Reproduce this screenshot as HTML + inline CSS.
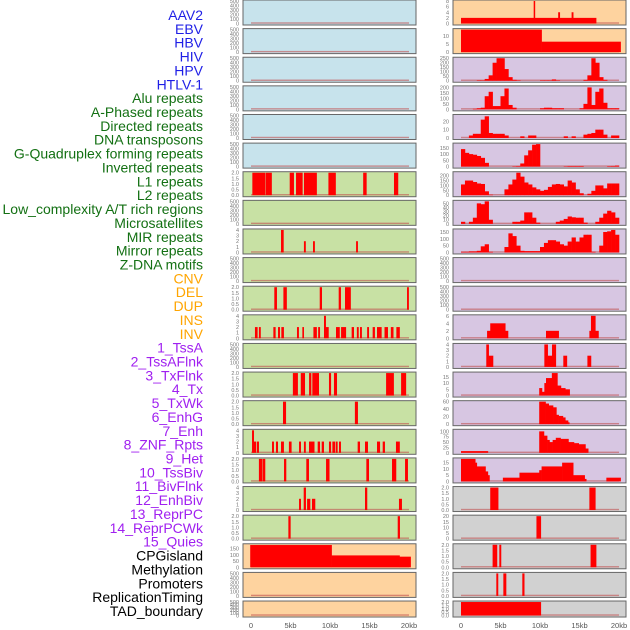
<!DOCTYPE html>
<html><head><meta charset="utf-8"><style>
html,body{margin:0;padding:0;background:#fff;width:630px;height:630px;overflow:hidden}
svg{display:block;font-family:"Liberation Sans",sans-serif}
</style></head><body>
<svg id="chart" width="630" height="630" viewBox="0 0 630 630" xmlns="http://www.w3.org/2000/svg"></svg>
<script>
// ---- labels ----
const trackLabels = ["AAV2","EBV","HBV","HIV","HPV","HTLV-1","Alu repeats","A-Phased repeats","Directed repeats","DNA transposons","G-Quadruplex forming repeats","Inverted repeats","L1 repeats","L2 repeats","Low_complexity A/T rich regions","Microsatellites","MIR repeats","Mirror repeats","Z-DNA motifs","CNV","DEL","DUP","INS","INV","1_TssA","2_TssAFlnk","3_TxFlnk","4_Tx","5_TxWk","6_EnhG","7_Enh","8_ZNF_Rpts","9_Het","10_TssBiv","11_BivFlnk","12_EnhBiv","13_ReprPC","14_ReprPCWk","15_Quies","CPGisland","Methylation","Promoters","ReplicationTiming","TAD_boundary"];
const labelGroups = [6,13,5,15,5];
const xTickValues = [0,5,10,15,20];
const xTickLabels = ["0","5kb","10kb","15kb","20kb"];
// ---- tick arrays ----
const T500=["0","100","200","300","400","500"], T2=["0.0","0.5","1.0","1.5","2.0"], T4=["0","1","2","3","4"];
const T150=["0","50","100","150"], T8=["0","2","4","6","8"], T10=["0","5","10"], T250=["0","50","100","150","200","250"];
const T200=["0","50","100","150","200"], T20=["0","10","20"], T50=["0","10","20","30","40","50"], T6=["0","2","4","6"];
const T15=["0","5","10","15"], T60=["0","20","40","60"], T100=["0","25","50","75","100"], T20b=["0","5","10","15","20"];
// ---- left column segments [startKb,endKb,value] ----
const L_row6=[[0.17,1.77,2],[1.86,2.6,2],[4.9,5.4,2],[5.7,6.5,2],[6.7,8.3,2],[9.8,10.7,2],[14.2,14.6,2],[18.1,18.6,2]];
const L_row8=[[3.8,4.1,4],[6.7,6.9,2],[7.85,8.05,2],[13.3,13.5,2]];
const L_row10=[[2.95,3.25,2],[4.1,4.5,2],[8.7,8.95,2],[11.1,11.35,2],[11.9,12.6,2],[19.75,19.95,2]];
const L_row11=[[0.5,0.8,2],[1.0,1.2,2],[2.83,3.08,2],[3.42,3.63,2],[3.84,4.13,2],[5.82,6.03,2],[6.5,6.67,2],[7.9,8.3,2],[8.5,8.7,2],[9.24,9.45,4],[9.45,9.8,2],[10.76,11.2,2],[11.4,12.0,2],[12.74,13.0,2],[13.4,13.6,2],[13.8,14.0,2],[14.7,14.9,2],[15.4,15.65,2],[15.95,16.5,2],[16.9,17.3,2],[17.7,18.0,2],[18.4,18.8,2]];
const L_row13=[[5.3,5.9,2],[6.3,6.8,2],[7.35,7.6,2],[7.76,8.57,2],[9.87,10.1,2],[10.5,10.85,2],[17.1,18.05,2],[19.0,19.6,2]];
const L_row14=[[4.05,4.4,2],[13.15,13.5,2]];
const L_row15=[[0.13,0.34,4],[0.34,0.63,2],[0.76,0.97,2],[2.66,2.87,2],[3.16,3.38,2],[3.8,4.13,2],[4.8,5.1,2],[6.08,6.29,2],[6.7,6.9,2],[7.34,8.0,2],[8.44,8.7,2],[8.95,9.2,2],[9.87,10.1,2],[10.3,10.63,2],[10.75,10.93,2],[11.14,11.35,2],[13.5,13.76,2],[14.43,14.77,2],[15.95,16.3,2],[16.67,16.92,2],[18.35,18.8,2]];
const L_row16=[[1.0,1.43,2],[1.52,1.77,2],[4.18,4.43,2],[7.0,7.3,2],[9.5,9.9,2],[14.6,14.9,2],[17.85,18.35,2],[19.5,19.83,2]];
const L_row17=[[6.08,6.29,2],[6.67,6.92,4],[7.1,7.47,2],[7.72,8.1,2],[14.43,14.68,4],[18.73,19.07,2]];
const L_row18=[[4.73,4.98,2],[18.57,18.82,2]];
const L_row19=[[-0.1,10.2,178],[10.2,18.8,95],[18.8,20.2,85]];
// ---- right column: segments or 0.5kb bin profiles ----
const R_row0=[[0,17.1,2],[9.2,9.35,8],[12.3,12.5,4],[14.0,14.2,4]];
const R_row1=[[0,10.2,14],[10.2,20.2,6.5]];
const R_row2=[0,0,0,0,5,5,20,60,200,250,250,130,40,10,5,0,0,0,0,0,5,5,5,15,5,0,0,0,0,0,0,10,60,250,200,40,10,0,0,0];
const R_row3=[0,0,0,5,10,15,120,160,30,30,120,190,40,15,0,0,0,0,0,0,10,15,15,10,10,10,0,0,0,0,10,50,200,40,160,190,60,10,10,10];
const R_row4=[0,0,3,5,5,22,26,6,5,5,5,3,0,0,0,2,0,3,3,0,0,0,0,0,0,0,2,0,2,0,0,4,5,6,10,10,4,0,3,3];
const R_row5=[140,110,100,95,85,70,30,0,0,0,0,0,0,3,5,25,90,130,175,180,0,0,0,0,0,0,3,5,5,5,5,0,0,0,0,0,0,4,5,8];
const R_row6=[110,150,150,135,120,115,40,5,0,0,0,60,110,160,230,190,130,110,80,60,45,55,85,110,115,110,90,150,130,60,20,0,15,45,100,100,70,120,120,120];
const R_row7=[5,0,5,15,50,48,55,10,0,0,0,0,0,5,5,8,28,28,15,3,0,0,0,0,5,8,12,18,16,15,15,3,0,0,5,15,25,32,28,15];
const R_row8=[5,5,8,8,12,45,60,5,0,0,0,40,140,120,50,12,10,10,10,10,40,70,90,90,80,60,50,80,110,80,110,130,130,5,0,50,150,155,165,130];
const R_row11=[[3.3,3.7,2],[3.7,5.6,4],[5.6,5.95,2],[10.76,12.36,2],[16.25,16.45,2],[16.45,17.0,6],[17.0,17.4,2]];
const R_row12=[[3.2,3.5,4],[3.5,4.05,2],[10.55,10.97,4],[10.97,11.52,2],[11.52,12.0,4],[12.95,13.4,2],[16.0,16.45,2]];
const R_row13=[[9.9,10.25,6],[10.25,10.55,3],[10.55,10.76,10],[10.76,11.5,14],[11.5,12.2,18],[12.2,12.65,8],[12.65,13.2,6],[13.2,13.75,5]];
const R_row14=[[9.9,10.7,60],[10.7,11.1,55],[11.1,11.65,50],[11.65,12.07,45],[12.07,12.36,25],[12.36,12.9,22],[12.9,13.2,18],[13.2,13.55,10],[13.55,13.7,5]];
const R_row15=[[0,3.4,8],[9.9,10.5,100],[10.5,10.9,80],[10.9,11.2,60],[11.2,11.6,50],[11.6,12.0,60],[12.0,12.6,70],[12.6,13.6,65],[13.6,14.3,50],[14.3,14.9,45],[14.9,15.75,40],[15.75,16.1,20]];
const R_row16=[[0,1.8,18],[1.8,2.0,15],[2.0,3.1,12],[3.1,3.4,8],[3.4,3.6,5],[5.3,7.4,3],[7.4,9.9,7],[9.9,10.2,9],[10.2,12.8,12],[12.8,14.2,15],[14.2,15.65,5],[15.65,15.85,2],[18.4,20.2,3]];
const R_row17=[[3.7,4.7,2],[16.25,17.0,2]];
const R_row18=[[9.55,10.1,20]];
const R_row19=[[4.0,4.55,2],[4.85,5.06,2],[16.4,17.1,2]];
const R_row20=[[4.47,4.68,2],[5.36,5.7,2],[7.76,8.0,2]];
const R_row21=[[0,10.1,2]];

const BLUE="#c7e3ec",GREEN="#c8e1a4",ORANGE="#fed39f",PURPLE="#d7c6e2",GRAY="#d1d1d1";
const leftCol=[
 [BLUE,T500,500,[]],[BLUE,T500,500,[]],[BLUE,T500,500,[]],[BLUE,T500,500,[]],[BLUE,T500,500,[]],[BLUE,T500,500,[]],
 [GREEN,T2,2,L_row6],[GREEN,T500,500,[]],[GREEN,T4,4,L_row8],[GREEN,T500,500,[]],[GREEN,T2,2,L_row10],[GREEN,T4,4,L_row11],
 [GREEN,T500,500,[]],[GREEN,T2,2,L_row13],[GREEN,T2,2,L_row14],[GREEN,T4,4,L_row15],[GREEN,T2,2,L_row16],[GREEN,T4,4,L_row17],
 [GREEN,T2,2,L_row18],[ORANGE,T150,180,L_row19],[ORANGE,T500,500,[]],[ORANGE,T500,500,[]]];
const rightCol=[
 [ORANGE,T8,8,R_row0],[ORANGE,T10,14,R_row1],[PURPLE,T250,250,R_row2],[PURPLE,T200,205,R_row3],[PURPLE,T20,27,R_row4],
 [PURPLE,T150,180,R_row5],[PURPLE,T200,230,R_row6],[PURPLE,T50,55,R_row7],[PURPLE,T150,165,R_row8],[PURPLE,T500,500,[]],
 [PURPLE,T500,500,[]],[PURPLE,T6,6,R_row11],[PURPLE,T4,4,R_row12],[PURPLE,T15,18,R_row13],[PURPLE,T60,60,R_row14],
 [PURPLE,T100,105,R_row15],[PURPLE,T15,18,R_row16],[GRAY,T2,2,R_row17],[GRAY,T20b,20,R_row18],[GRAY,T2,2,R_row19],
 [GRAY,T2,2,R_row20],[GRAY,T2,2,R_row21]];

const NS="http://www.w3.org/2000/svg";
const svg=document.getElementById('chart');
function mk(tag,attrs,parent){const e=document.createElementNS(NS,tag);for(const k in attrs)e.setAttribute(k,attrs[k]);(parent||svg).appendChild(e);return e;}

// labels
const groupColors=["#1f1fe6","#137013","#ffa500","#a020f0","#000000"];
let gi=0,cnt=0;
trackLabels.forEach((t,i)=>{
  while(cnt>=labelGroups[gi]){cnt-=labelGroups[gi];gi++;}
  const e=mk('text',{x:203,y:20+i*13.86,'text-anchor':'end','font-size':14,fill:groupColors[gi]});
  e.textContent=t;
  
  
  cnt++;
});

const cols=[{px:243,pw:173,x0:251,x1:409,data:leftCol,name:'left'},{px:453,pw:173,x0:461,x1:619,data:rightCol,name:'right'}];
cols.forEach(col=>{
  const xs=kb=>col.x0+(kb/20)*(col.x1-col.x0);
  col.data.forEach((p,r)=>{
    const top=r*28.62, h=(r===21)?16:25;
    const g=mk('g',{});
    
    
    mk('rect',{x:col.px,y:top,width:col.pw,height:h,fill:p[0],stroke:'#666','stroke-width':1},g);
    const base=top+h-1.5, ph=h-2.5;
    const ys=v=>base-(v/p[2])*ph;
    // ticks
    const ticks=p[1];
    ticks.forEach(tl=>{
      const v=parseFloat(tl);
      const t=mk('text',{x:col.px-4,y:ys(v)+2,'text-anchor':'end','font-size':5.5,fill:'#777'},g);
      t.textContent=tl;
      
      
    });
    // baseline
    mk('rect',{x:xs(0),y:base-1.2,width:xs(20)-xs(0),height:1.4,fill:'#c05050',opacity:0.6},g);
    let segs=p[3];
    if(segs.length && typeof segs[0]==='number'){segs=segs.map((v,i)=>[i*0.5,(i+1)*0.5,v]);}
    segs.forEach(s=>{
      if(s[2]<=0)return;
      const x=xs(s[0]),w=Math.max(xs(s[1])-x,1.2),y=ys(s[2]);
      const b=mk('rect',{x:x,y:y,width:w+0.3,height:base-y,fill:'#ff0000'},g);
      
      
    });
  });
  xTickValues.forEach((v,i)=>{
    const t=mk('text',{x:xs(v),y:628,'text-anchor':'middle','font-size':7.5,fill:'#555'});
    t.textContent=xTickLabels[i];
    
    
  });
});
</script>
</body></html>
